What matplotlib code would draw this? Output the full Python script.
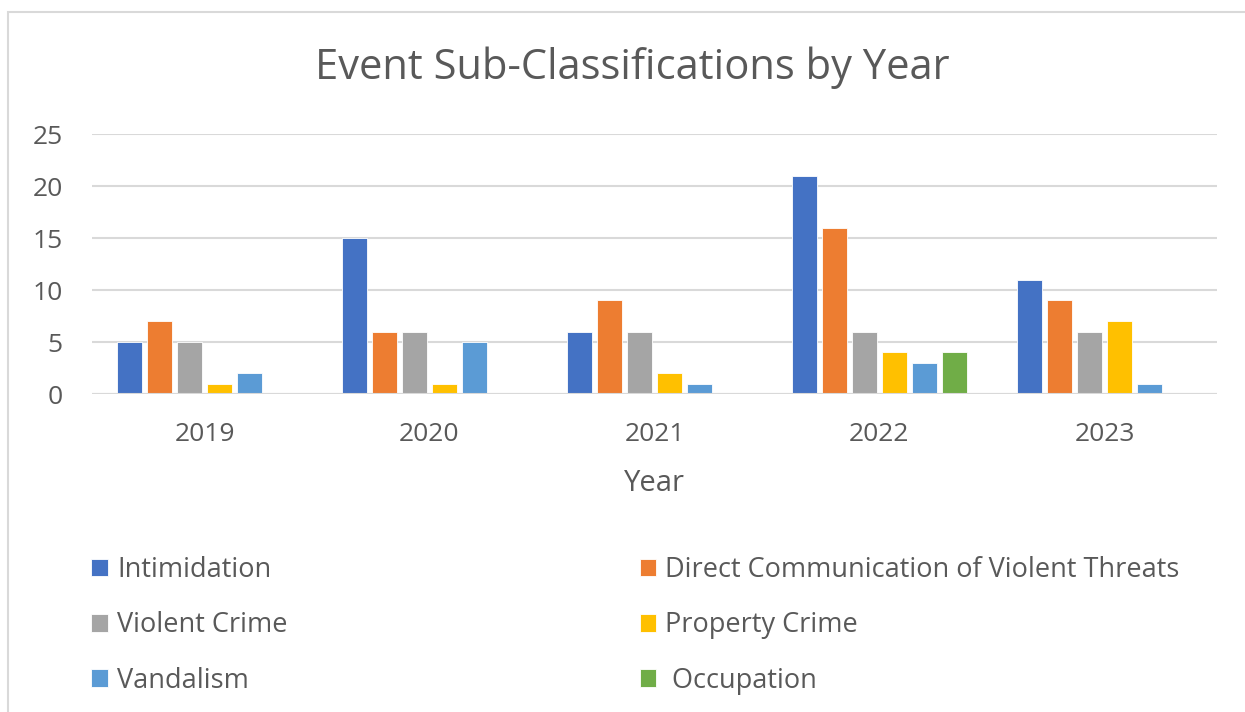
import matplotlib.pyplot as plt
import matplotlib.patches as mpatches
import numpy as np

# Data
years = ["2019", "2020", "2021", "2022", "2023"]
series = ["Intimidation", "Direct Communication of Violent Threats", "Violent Crime",
          "Property Crime", "Vandalism", " Occupation"]
intimidation = [5, 15, 6, 21, 11]
direct_threats = [7, 6, 9, 16, 9]
violent_crime = [5, 6, 6, 6, 6]
property_crime = [1, 1, 2, 4, 7]
vandalism = [2, 5, 1, 3, 1]
occupation = [0, 0, 0, 4, 0]

values = [intimidation, direct_threats, violent_crime, property_crime, vandalism, occupation]
colors = ["#4472C4", "#ED7D31", "#A5A5A5", "#FFC000", "#5B9BD5", "#70AD47"]
text_color = "#595959"
grid_color = "#D9D9D9"

plt.rcParams['font.family'] = ['Open Sans', 'DejaVu Sans']

fig = plt.figure(figsize=(12.45, 7.12), dpi=100)
ax = fig.add_axes([92 / 1245, 1 - 394 / 712, 1125 / 1245, 260 / 712])

x = np.arange(len(years))
step = 0.1333
width = 0.107
handles = []
for i, (name, vals, c) in enumerate(zip(series, values, colors)):
    b = ax.bar(x + (i - 2.5) * step, vals, width=width, color=c, edgecolor="white",
               linewidth=0.6, label=name, zorder=3)
    handles.append(b)

ax.set_xlim(-0.5, len(years) - 0.5)
ax.set_ylim(0, 25)
ax.set_yticks([0, 5, 10, 15, 20, 25])
ax.set_xticks(x, years)
ax.grid(axis='y', color=grid_color, linewidth=1.5, zorder=0)
for s in ax.spines.values():
    s.set_visible(False)
ax.axhline(0, color=grid_color, linewidth=1.5, zorder=4)
ax.tick_params(axis='y', length=0, pad=21, labelsize=19, labelcolor=text_color)
ax.tick_params(axis='x', length=0, pad=20, labelsize=19, labelcolor=text_color)
ax.set_xlabel("Year", fontsize=21, color=text_color, labelpad=16)

fig.text(632 / 1245, 1 - 68 / 712, "Event Sub-Classifications by Year", ha='center', va='center',
         fontsize=30, color=text_color)

# legend filled column-wise: reorder so rows read left to right
order = [0, 2, 4, 1, 3, 5]
leg = fig.legend([handles[k] for k in order], [series[k] for k in order], ncol=2,
                 loc='upper left', bbox_to_anchor=(67 / 1245, 1 - 532 / 712),
                 frameon=False, fontsize=19.5, handlelength=0.6, handleheight=0.6,
                 handletextpad=0.35, columnspacing=13.0, labelspacing=1.0,
                 labelcolor=text_color)

# outer chart border
fig.patches.append(mpatches.Rectangle((8 / 1245, -0.05), 1.1, 1 - 12 / 712 + 0.05,
                                      transform=fig.transFigure, fill=False,
                                      edgecolor=grid_color, linewidth=1.5))

fig.savefig("out.png", dpi=100, facecolor="white")
